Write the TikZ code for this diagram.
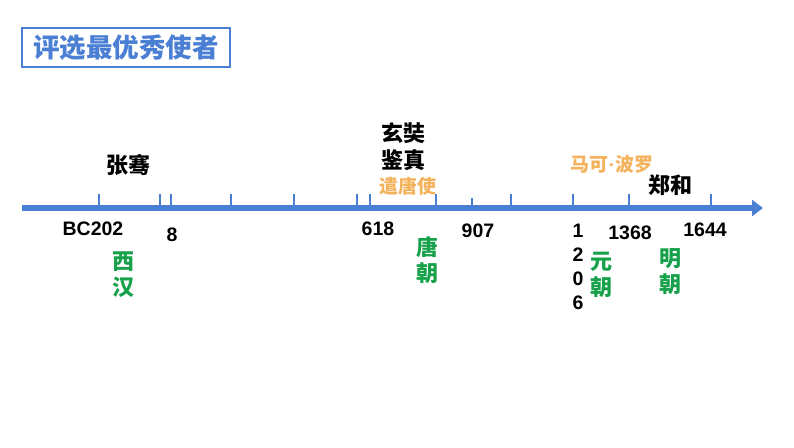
\documentclass[tikz,border=0pt]{standalone}
\usepackage{fontspec}
\setmainfont{Liberation Sans}
\newfontfamily\cjk{Noto Sans CJK SC}
\usetikzlibrary{arrows.meta, positioning}
\definecolor{lineblue}{HTML}{4A7FD4}
\definecolor{dynastygreen}{HTML}{17A14B}
\definecolor{envoyorange}{HTML}{F5B25C}

\tikzset{
  titlebox/.style={draw=lineblue, line width=2pt, minimum width=208pt, minimum height=39pt,
    text=lineblue, font=\cjk\bfseries\fontsize{26.5}{30}\selectfont},
  axis/.style={lineblue, line width=6pt, -{Triangle[length=11pt, width=16pt]}},
  tick/.style={lineblue, line width=2.5pt},
  envoyname/.style={inner sep=0, align=center, font=\cjk\bfseries\fontsize{22}{27}\selectfont},
  dynasty/.style={inner sep=0, align=center, text=dynastygreen, font=\cjk\bfseries\fontsize{22}{26}\selectfont},
  mission/.style={inner sep=0, text=envoyorange, font=\cjk\bfseries\fontsize{19}{22}\selectfont},
  year/.style={inner sep=0, align=center, font=\bfseries\fontsize{19.5}{24}\selectfont}
}

\begin{document}
\begin{tikzpicture}[x=1pt, y=-1pt]
  \useasboundingbox (0,0) rectangle (794,447);

  \node[titlebox] (title) at (126,47.5) {评选最优秀使者};

  % time axis
  \coordinate (axisstart) at (22,208);
  \coordinate (axisend) at (763,208);
  \draw[axis] (axisstart) -- (axisend);
  \foreach \x in {99,160,171,231,294,357,370,436,511,573,629,711}
    \draw[tick] (\x,194) -- (\x,206);
  \draw[tick] (472,198) -- (472,206);

  % envoys
  \node[envoyname] (zhangqian) at (128,165) {张骞};
  \node[envoyname] (xuanzang) at (403,146.5) {玄奘\\鉴真};
  \node[mission] (qiantangshi) at (408,186) {遣唐使};
  \node[mission] (makeboluo) at (612,164) {马可{\normalfont\bfseries·}波罗};
  \node[envoyname] (zhenghe) at (670,185) {郑和};

  % years
  \node[year] (bc202) at (93,229) {BC202};
  \node[year] (y8) at (172,235) {8};
  \node[year] (y618) at (378,229) {618};
  \node[year] (y907) at (478,231) {907};
  \node[year] (y1206) at (578,267) {1\\2\\0\\6};
  \node[year] (y1368) at (630,233) {1368};
  \node[year] (y1644) at (705,230) {1644};

  % dynasties
  \node[dynasty] (xihan) at (123,275) {西\\汉};
  \node[dynasty] (tangchao) at (427,260) {唐\\朝};
  \node[dynasty] (yuanchao) at (601,275) {元\\朝};
  \node[dynasty] (mingchao) at (670,271.5) {明\\朝};
\end{tikzpicture}
\end{document}
